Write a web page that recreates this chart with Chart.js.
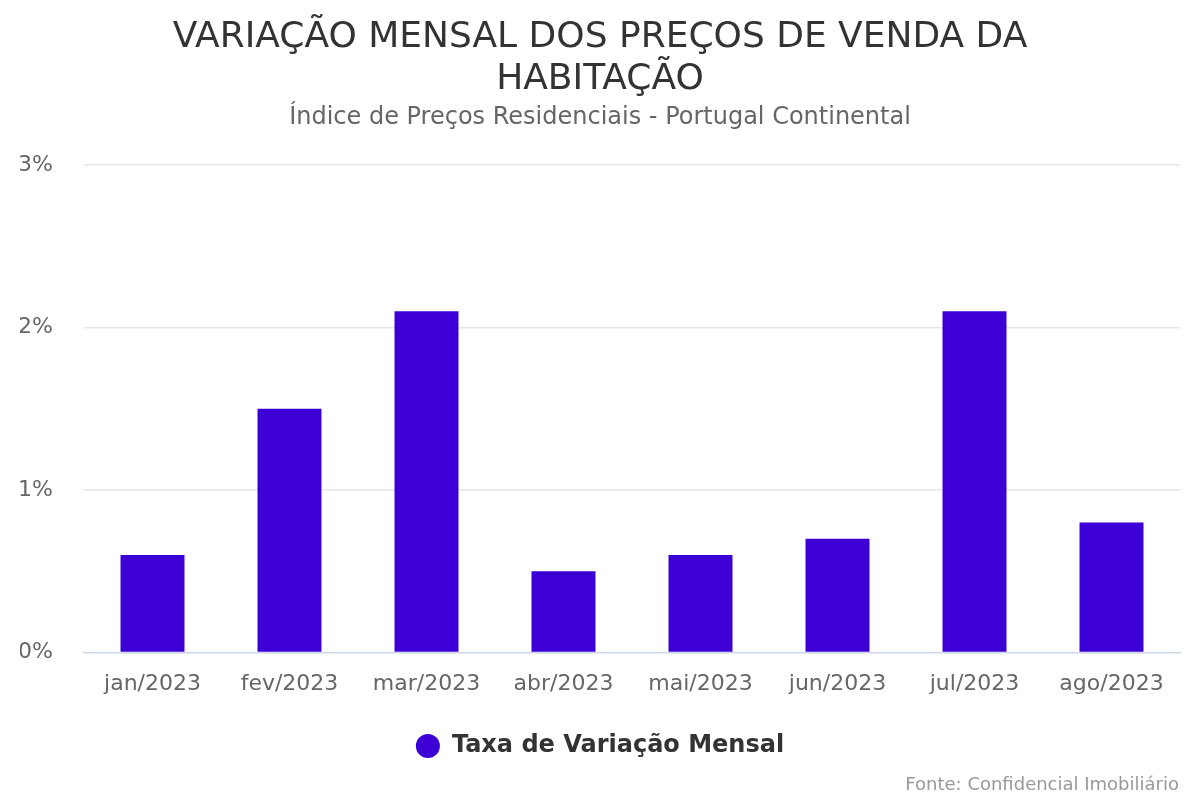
<!DOCTYPE html>
<html lang="pt">
<head>
    <meta charset="UTF-8">
    <title>Variação mensal dos preços de venda da habitação</title>
    <script src="https://cdn.jsdelivr.net/npm/chart.js@4.4.0/dist/chart.umd.min.js"></script>
    <style>
        body { margin: 0; background: #fff; font-family: "DejaVu Sans", sans-serif; }
        .wrap { position: relative; width: 1200px; height: 800px; }
        .credits { position: absolute; right: 21px; bottom: 6px; font-size: 18px; color: #999; }
    </style>
</head>
<body>
<div class="wrap">
    <canvas id="chart" width="1200" height="800"></canvas>
    <div class="credits">Fonte: Confidencial Imobiliário</div>
</div>
<script>
// data
const months = ['jan/2023', 'fev/2023', 'mar/2023', 'abr/2023', 'mai/2023', 'jun/2023', 'jul/2023', 'ago/2023'];
const monthlyRate = [0.6, 1.5, 2.1, 0.5, 0.6, 0.7, 2.1, 0.8];
const yTicks = [0, 1, 2, 3];

const font = '"DejaVu Sans", sans-serif';

new Chart(document.getElementById('chart'), {
    type: 'bar',
    data: {
        labels: months,
        datasets: [{
            label: 'Taxa de Variação Mensal',
            data: monthlyRate,
            backgroundColor: '#3c00d6',
            borderWidth: 0,
            barPercentage: 1,
            categoryPercentage: 0.467
        }]
    },
    options: {
        responsive: false,
        animation: false,
        layout: { padding: { left: 20, right: 20, top: 0, bottom: 32 } },
        scales: {
            x: {
                grid: { display: false, drawTicks: false },
                border: { color: '#ccd6eb', width: 1.5 },
                ticks: { color: '#666', font: { family: font, size: 22 }, padding: 18 }
            },
            y: {
                min: 0,
                max: 3,
                afterFit(scale) { scale.width = 64; },
                afterBuildTicks(scale) { scale.ticks = yTicks.map(v => ({ value: v })); },
                grid: {
                    color: c => (c.tick && c.tick.value === 0) ? 'rgba(0,0,0,0)' : '#e6e6e6',
                    lineWidth: 1.5,
                    drawTicks: false
                },
                border: { display: false },
                ticks: {
                    color: '#666',
                    font: { family: font, size: 22 },
                    padding: 31,
                    callback: v => v + '%'
                }
            }
        },
        plugins: {
            title: {
                display: true,
                text: ['VARIAÇÃO MENSAL DOS PREÇOS DE VENDA DA', 'HABITAÇÃO'],
                color: '#333',
                font: { family: font, size: 36, weight: 'normal', lineHeight: 1.167 },
                padding: { top: 17, bottom: 0 }
            },
            subtitle: {
                display: true,
                text: 'Índice de Preços Residenciais - Portugal Continental',
                color: '#666',
                font: { family: font, size: 24, lineHeight: 1.2 },
                padding: { top: 2, bottom: 33 }
            },
            legend: {
                position: 'bottom',
                labels: {
                    color: '#333',
                    font: { family: font, size: 24, weight: 'bold' },
                    usePointStyle: true,
                    pointStyle: 'circle',
                    boxHeight: 17,
                    padding: 19
                }
            },
            tooltip: { enabled: false }
        }
    }
});
</script>
</body>
</html>
